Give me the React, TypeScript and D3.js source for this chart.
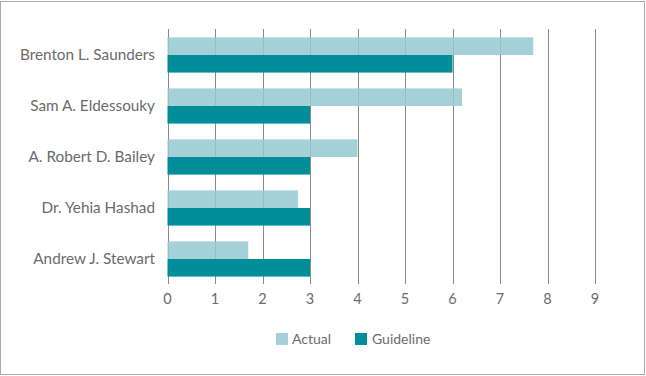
import React from "react";
import * as d3 from "d3";

const categories = [
  "Brenton L. Saunders",
  "Sam A. Eldessouky",
  "A. Robert D. Bailey",
  "Dr. Yehia Hashad",
  "Andrew J. Stewart",
];
const actualValues = [7.7, 6.2, 4.0, 2.75, 1.7];
const guidelineValues = [6, 3, 3, 3, 3];
const xTicks = [0, 1, 2, 3, 4, 5, 6, 7, 8, 9];
const seriesNames = ["Actual", "Guideline"];

const W = 646;
const H = 376;
const FONT = "Lato, 'Open Sans', sans-serif";
const TEXT = "#6b6b6b";
const LIGHT = "#96c8d1";
const DARK = "#008e9b";

export default function App() {
  const x = d3.scaleLinear().domain([0, 9]).range([167.5, 595]);
  const y = d3
    .scaleBand<string>()
    .domain(categories)
    .range([29.5, 284.5])
    .paddingInner(0.31)
    .paddingOuter(0.155);
  const bw = y.bandwidth();
  const half = bw / 2;

  return (
    <svg
      width={W}
      height={H}
      style={{ position: "absolute", left: 0, top: 0, display: "block" }}
    >
      <rect x={0} y={0} width={W} height={H} fill="#fff" />
      <rect
        x={0.5}
        y={1.5}
        width={644}
        height={373}
        fill="none"
        stroke="#a9a9a9"
        strokeWidth={1}
      />
      {xTicks.map((t) => (
        <line
          key={"g" + t}
          x1={Math.round(x(t)) + 0.5}
          x2={Math.round(x(t)) + 0.5}
          y1={29}
          y2={284}
          stroke="#8a8a8a"
          strokeWidth={1}
        />
      ))}
      {categories.map((c, i) => {
        const y0 = y(c) as number;
        return (
          <g key={c}>
            <rect
              x={x(0)}
              y={y0}
              width={x(actualValues[i]) - x(0)}
              height={half}
              fill={LIGHT}
              fillOpacity={0.85}
            />
            <rect
              x={x(0)}
              y={y0 + half}
              width={x(guidelineValues[i]) - x(0)}
              height={half}
              fill={DARK}
            />
            <text
              x={155}
              y={y0 + half}
              dy="0.35em"
              textAnchor="end"
              fontFamily={FONT}
              fontSize={15.3}
              fill={TEXT}
            >
              {c}
            </text>
          </g>
        );
      })}
      {xTicks.map((t) => (
        <text
          key={"t" + t}
          x={x(t)}
          y={299}
          dy="0.35em"
          textAnchor="middle"
          fontFamily={FONT}
          fontSize={14.5}
          fill={TEXT}
        >
          {t}
        </text>
      ))}
      <g>
        <rect x={276} y={333} width={12} height={12} fill={LIGHT} fillOpacity={0.85} />
        <text
          x={292}
          y={339}
          dy="0.35em"
          fontFamily={FONT}
          fontSize={14}
          fill={TEXT}
        >
          {seriesNames[0]}
        </text>
        <rect x={355} y={333} width={12} height={12} fill={DARK} />
        <text
          x={372}
          y={339}
          dy="0.35em"
          fontFamily={FONT}
          fontSize={14}
          fill={TEXT}
        >
          {seriesNames[1]}
        </text>
      </g>
    </svg>
  );
}
